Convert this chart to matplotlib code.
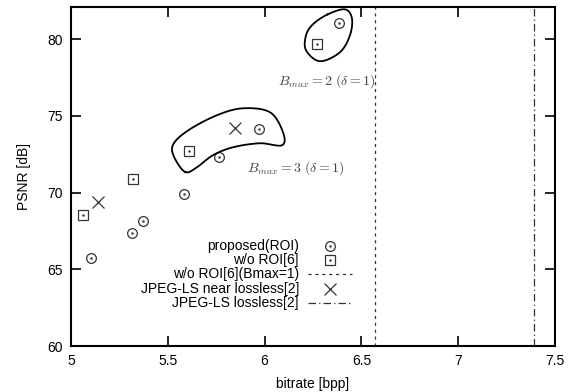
import numpy as np
import matplotlib.pyplot as plt
from matplotlib.lines import Line2D

plt.rcParams['font.family'] = ['Liberation Sans', 'DejaVu Sans']
plt.rcParams['mathtext.fontset'] = 'cm'

# data
prop_x = [5.102, 5.313, 5.374, 5.585, 5.766, 5.973, 6.384]
prop_y = [65.75, 67.34, 68.12, 69.88, 72.31, 74.12, 81.06]
noroi_x = [5.064, 5.319, 5.610, 6.269]
noroi_y = [68.55, 70.86, 72.72, 79.72]
jls_near_x = [5.141, 5.847]
jls_near_y = [69.38, 74.20]
noroi_b1 = 6.570
jls_lossless = 7.39

# outlines of the two grouping blobs
blob3_x = [5.589, 5.530, 5.530, 5.610, 5.754, 5.888, 6.028, 6.095, 6.090, 5.976, 5.837, 5.733, 5.651]
blob3_y = [71.35, 72.40, 73.20, 74.10, 75.05, 75.50, 75.24, 73.94, 73.09, 73.22, 72.96, 72.44, 71.66]
blob2_x = [6.327, 6.415, 6.451, 6.441, 6.389, 6.286, 6.214, 6.214, 6.250]
blob2_y = [81.63, 81.95, 81.37, 80.26, 79.15, 78.57, 79.28, 80.26, 80.98]


def closed_spline(xs, ys, n=30):
    p = np.column_stack([xs, ys])
    m = len(p)
    out = []
    for i in range(m):
        p0, p1, p2, p3 = p[i - 1], p[i], p[(i + 1) % m], p[(i + 2) % m]
        t = np.linspace(0, 1, n, endpoint=False)[:, None]
        out.append(0.5 * ((2 * p1) + (-p0 + p2) * t + (2 * p0 - 5 * p1 + 4 * p2 - p3) * t**2
                          + (-p0 + 3 * p1 - 3 * p2 + p3) * t**3))
    out = np.vstack(out + [out[0][:1]])
    return out[:, 0], out[:, 1]


fig = plt.figure(figsize=(5.76, 3.92), dpi=100)
ax = fig.add_axes([0.1233, 0.1173, 0.8402, 0.8647])

mk = '#333333'
ax.plot(prop_x, prop_y, 'o', ms=7, mfc='none', mec=mk, mew=0.9)
ax.plot(prop_x, prop_y, '.', ms=1.5, color=mk)
ax.plot(noroi_x, noroi_y, 's', ms=6.5, mfc='none', mec=mk, mew=0.9)
ax.plot(noroi_x, noroi_y, '.', ms=1.5, color=mk)
ax.plot(jls_near_x, jls_near_y, 'x', ms=8, color=mk, mew=0.9)
ax.axvline(noroi_b1, color=mk, lw=0.9, ls=(0, (2.5, 3)))
ax.axvline(jls_lossless, color=mk, lw=0.9, ls=(0, (6, 2.5, 1, 2.5)))

for bx, by in [(blob3_x, blob3_y), (blob2_x, blob2_y)]:
    sx, sy = closed_spline(bx, by)
    ax.plot(sx, sy, color='black', lw=1.3)

ax.text(6.069, 77.26, r'$B_{max}=2\ (\delta=1)$', color='#444444', fontsize=10, va='center')
ax.text(5.911, 71.62, r'$B_{max}=3\ (\delta=1)$', color='#444444', fontsize=10, va='center')

# legend, gnuplot style: labels right aligned, symbol to the right
labels = ['proposed(ROI)', 'w/o ROI[6]', 'w/o ROI[6](Bmax=1)',
          'JPEG-LS near lossless[2]', 'JPEG-LS lossless[2]']
rows = [0.296, 0.254, 0.212, 0.168, 0.127]
for lab, yy in zip(labels, rows):
    ax.text(0.471, yy, lab, transform=ax.transAxes, ha='right', va='center', fontsize=10)
tr = ax.transAxes
ax.add_line(Line2D([0.535], [rows[0]], marker='o', ms=7, mfc='none', mec=mk, mew=0.9, transform=tr))
ax.add_line(Line2D([0.535], [rows[0]], marker='.', ms=1.5, color=mk, transform=tr))
ax.add_line(Line2D([0.535], [rows[1]], marker='s', ms=6.5, mfc='none', mec=mk, mew=0.9, transform=tr))
ax.add_line(Line2D([0.535], [rows[1]], marker='.', ms=1.5, color=mk, transform=tr))
ax.add_line(Line2D([0.490, 0.581], [rows[2]] * 2, color=mk, lw=0.9, ls=(0, (2.5, 3)), transform=tr))
ax.add_line(Line2D([0.535], [rows[3]], marker='x', ms=8, color=mk, mew=0.9, transform=tr))
ax.add_line(Line2D([0.490, 0.581], [rows[4]] * 2, color=mk, lw=0.9, ls=(0, (6, 2.5, 1, 2.5)), transform=tr))

ax.set_xlim(5, 7.5)
ax.set_ylim(60, 82.1)
ax.set_xticks([5, 5.5, 6, 6.5, 7, 7.5])
ax.set_xticklabels(['5', '5.5', '6', '6.5', '7', '7.5'])
ax.set_yticks([60, 65, 70, 75, 80])
ax.tick_params(direction='in', length=7, width=1.2, top=True, right=True, labelsize=10, pad=6)
for s in ax.spines.values():
    s.set_linewidth(1.5)
ax.set_xlabel('bitrate [bpp]', fontsize=10, labelpad=6)
ax.set_ylabel('PSNR [dB]', fontsize=10, labelpad=12)

fig.savefig('out.png', dpi=100)
